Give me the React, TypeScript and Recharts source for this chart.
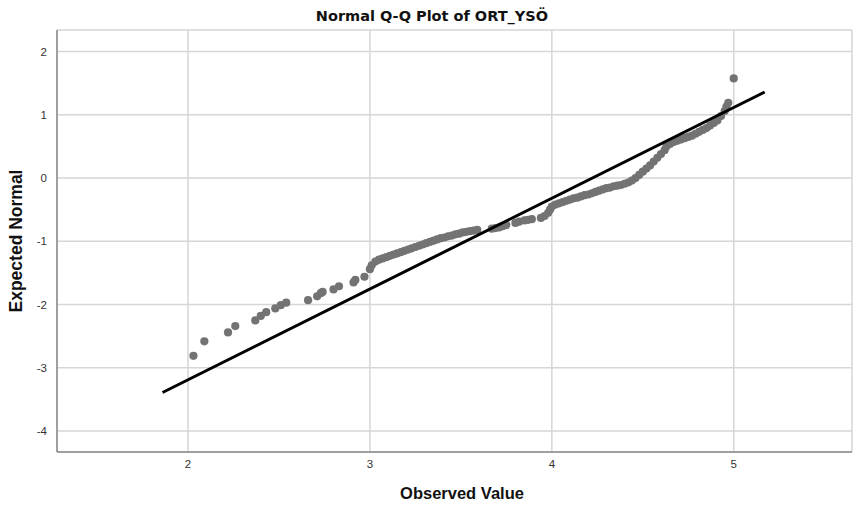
import { CartesianGrid, Scatter, ScatterChart, XAxis, YAxis } from "recharts";

// observed values (distinct scores) and their expected normal quantiles
const observed = [
  2.03, 2.09, 2.22, 2.26, 2.37, 2.4, 2.43, 2.48, 2.51, 2.54, 2.66, 2.71, 2.73, 2.74, 2.8, 2.83,
  2.91, 2.92, 2.97, 3.0, 3.01, 3.03,
  3.05, 3.07, 3.09, 3.11, 3.13, 3.15, 3.17, 3.19, 3.21, 3.23, 3.25, 3.27, 3.29, 3.31, 3.33, 3.35,
  3.37, 3.39, 3.41, 3.43, 3.45, 3.47, 3.49, 3.51, 3.53, 3.55, 3.57, 3.59,
  3.67, 3.69, 3.71, 3.73, 3.75, 3.8, 3.82, 3.85, 3.87, 3.89, 3.94, 3.96, 3.98, 3.99, 4.0,
  4.02, 4.04, 4.06, 4.08, 4.1, 4.12, 4.14, 4.16, 4.18, 4.2, 4.22, 4.24, 4.26, 4.28, 4.3, 4.32,
  4.34, 4.36, 4.38, 4.4, 4.42, 4.44, 4.46, 4.48, 4.5, 4.52, 4.54, 4.56, 4.58, 4.6, 4.62,
  4.63, 4.65, 4.67, 4.69, 4.71, 4.73, 4.75, 4.77, 4.79, 4.81, 4.83, 4.85, 4.87, 4.89, 4.91, 4.93,
  4.95, 4.96, 4.97, 5.0,
];
const expected = [
  -2.81, -2.58, -2.44, -2.34, -2.25, -2.18, -2.12, -2.06, -2.01, -1.97, -1.93, -1.87, -1.82, -1.8,
  -1.76, -1.71, -1.65, -1.61, -1.56, -1.44, -1.38, -1.32,
  -1.29, -1.27, -1.25, -1.23, -1.21, -1.19, -1.17, -1.15, -1.13, -1.11, -1.09, -1.07, -1.05, -1.03,
  -1.01, -0.99, -0.97, -0.95, -0.94, -0.92, -0.91, -0.89, -0.88, -0.86, -0.85, -0.84, -0.83, -0.82,
  -0.8, -0.79, -0.78, -0.76, -0.74, -0.71, -0.69, -0.67, -0.66, -0.65, -0.63, -0.6, -0.55, -0.5,
  -0.45,
  -0.42, -0.4, -0.38, -0.36, -0.34, -0.32, -0.31, -0.29, -0.27, -0.26, -0.24, -0.22, -0.2, -0.18,
  -0.16, -0.15, -0.13, -0.12, -0.11, -0.09, -0.07, -0.04, 0.0, 0.05, 0.1, 0.15, 0.2, 0.26, 0.32,
  0.38, 0.44,
  0.5, 0.54, 0.57, 0.59, 0.61, 0.63, 0.65, 0.67, 0.7, 0.73, 0.76, 0.79, 0.83, 0.87, 0.91, 0.98,
  1.06, 1.13, 1.19, 1.575,
];

// reference line end points
const lineX = [1.86, 5.17];
const lineY = [-3.39, 1.36];

const xTicks = [2, 3, 4, 5];
const yTicks = [-4, -3, -2, -1, 0, 1, 2];

const points = observed.map((x, i) => ({ x, y: expected[i] }));
const line = lineX.map((x, i) => ({ x, y: lineY[i] }));

const tickStyle = { fontSize: 11.5, fill: "#333", fontFamily: "Liberation Sans, Arial, sans-serif" };

export default function App() {
  return (
    <div style={{ position: "relative", width: 853, height: 510, background: "#fff" }}>
      <style>{"body{margin:0}"}</style>
      <ScatterChart width={853} height={510} margin={{ top: 30, right: 1, bottom: 0, left: 0 }}>
        <CartesianGrid stroke="#d6d6d6" strokeWidth={1.5} />
        <XAxis
          type="number"
          dataKey="x"
          domain={[1.28, 5.65]}
          ticks={xTicks}
          allowDataOverflow
          height={58}
          tickLine={false}
          tickSize={6}
          tickMargin={2}
          axisLine={{ stroke: "#8a8a8a", strokeWidth: 1.5 }}
          tick={tickStyle}
        />
        <YAxis
          type="number"
          dataKey="y"
          domain={[-4.33, 2.34]}
          ticks={yTicks}
          allowDataOverflow
          width={57}
          tickLine={false}
          tickSize={6}
          tickMargin={4}
          axisLine={{ stroke: "#8a8a8a", strokeWidth: 1.5 }}
          tick={tickStyle}
        />
        <Scatter
          data={points}
          fill="#737373"
          isAnimationActive={false}
          shape={(p: any) => <circle cx={p.cx} cy={p.cy} r={4.1} fill="#737373" />}
        />
        <Scatter
          data={line}
          line={{ stroke: "#000", strokeWidth: 3 }}
          isAnimationActive={false}
          shape={() => <g />}
        />
      </ScatterChart>
      <svg width={853} height={510} style={{ position: "absolute", left: 0, top: 0, pointerEvents: "none" }}>
        <text x={432} y={21} textAnchor="middle" fontFamily="DejaVu Sans, sans-serif" fontWeight="bold" fontSize={14.5} fill="#111">
          Normal Q-Q Plot of ORT_YSÖ
        </text>
        <text x={462} y={499} textAnchor="middle" fontFamily="Liberation Sans, Arial, sans-serif" fontWeight="bold" fontSize={16.5} fill="#111">
          Observed Value
        </text>
        <text
          x={22}
          y={241}
          textAnchor="middle"
          transform="rotate(-90 22 241)"
          fontFamily="Liberation Sans, Arial, sans-serif"
          fontWeight="bold"
          fontSize={17.5}
          fill="#111"
        >
          Expected Normal
        </text>
      </svg>
    </div>
  );
}
